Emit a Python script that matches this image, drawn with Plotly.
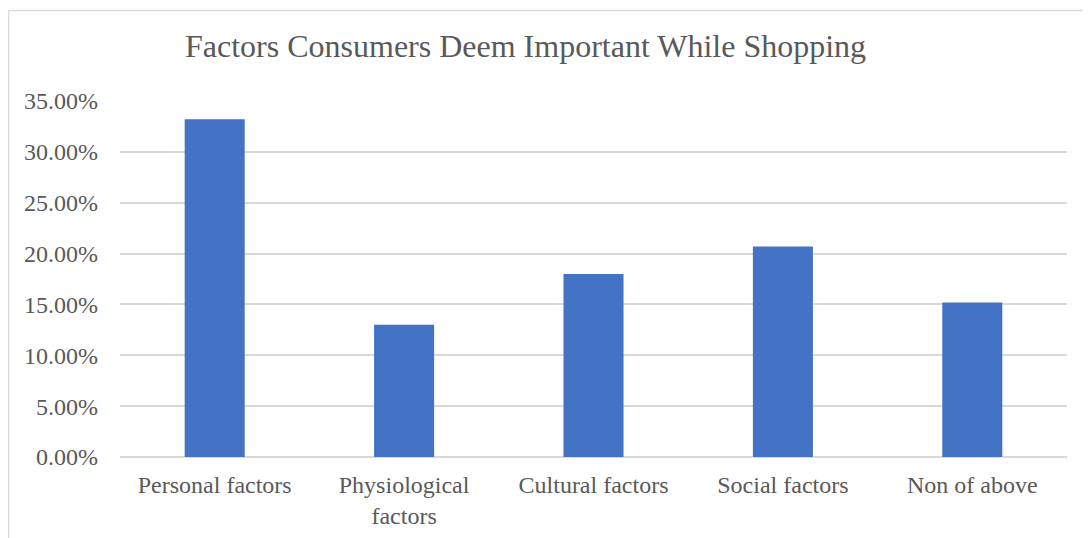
import plotly.graph_objects as go

categories = ["Personal factors", "Physiological<br>factors", "Cultural factors", "Social factors", "Non of above"]
values = [0.332, 0.130, 0.180, 0.207, 0.152]
title_text = "Factors Consumers Deem Important While Shopping"

# page has an 8px body margin; work in page pixels and convert
OFF = 8
W, H = 1091 - OFF, 538 - OFF
L, R, T, B = 120 - OFF, 24, 101 - OFF, 81
pw, ph = W - L - R, H - T - B

def px_x(p):
    return (p - OFF - L) / pw

def px_y(p):
    return (H - B - (p - OFF)) / ph

font_family = "Liberation Serif, Times New Roman, serif"
text_color = "#595959"
grid_color = "#d9d9d9"

fig = go.Figure(go.Bar(x=categories, y=values, marker_color="#4472C4", marker_line_width=0))

fig.update_layout(
    width=W, height=H,
    margin=dict(l=L, r=R, t=T, b=B, autoexpand=False),
    paper_bgcolor="white", plot_bgcolor="white",
    bargap=0.683,
    showlegend=False,
    font=dict(family=font_family, color=text_color, size=24),
)
fig.update_yaxes(
    range=[0, 0.35], dtick=0.05, tickformat=".2%",
    showgrid=True, gridcolor=grid_color, gridwidth=1.5,
    zeroline=True, zerolinecolor=grid_color, zerolinewidth=1.5,
    showline=False, ticks="", ticklabelstandoff=21,
    tickfont=dict(size=24, color=text_color, family=font_family),
)
fig.update_xaxes(
    showgrid=False, showline=False, ticks="", ticklabelstandoff=11,
    tickfont=dict(size=24, color=text_color, family=font_family),
)
fig.add_annotation(
    text=title_text, xref="paper", yref="paper",
    x=px_x(525), y=px_y(46), xanchor="center", yanchor="middle",
    showarrow=False, font=dict(size=32, color=text_color, family=font_family),
)
fig.add_shape(
    type="rect", xref="paper", yref="paper",
    x0=px_x(8.5), y0=px_y(10.5), x1=px_x(1200), y1=px_y(700),
    line=dict(color=grid_color, width=1.5), fillcolor="rgba(0,0,0,0)", layer="below",
)

fig.write_html("out.html")
